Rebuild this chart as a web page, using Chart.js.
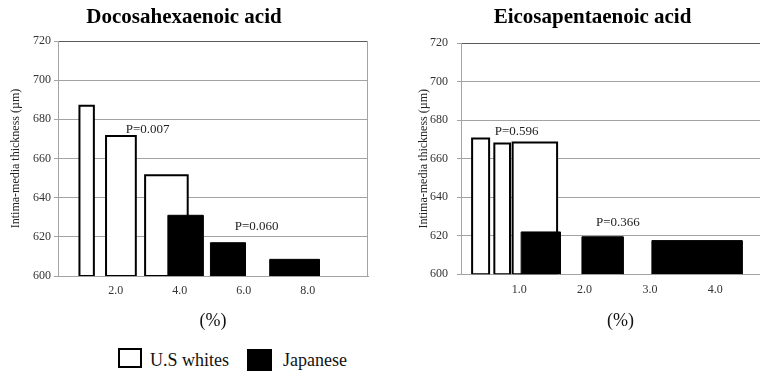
<!DOCTYPE html>
<html>
<head>
<meta charset="utf-8">
<script src="https://cdn.jsdelivr.net/npm/chart.js@4.4.1/dist/chart.umd.min.js"></script>
<style>
  html, body { margin: 0; padding: 0; background: #fff; overflow: hidden; }
  body { position: relative; width: 760px; height: 376px; }
  .panel { position: absolute; top: 0; height: 340px; }
  #dha-wrap { left: 0; width: 372px; }
  #epa-wrap { left: 405px; width: 375px; }
  .legend { font-family: 'Liberation Serif', 'Times New Roman', serif; font-size: 18px; color: #111; }
  .legend span { position: absolute; box-sizing: border-box; line-height: 20px; white-space: nowrap; }
</style>
</head>
<body>
<div class="panel" id="dha-wrap"><canvas id="dha"></canvas></div>
<div class="panel" id="epa-wrap"><canvas id="epa"></canvas></div>

<div class="legend">
  <span style="left:118px;top:348px;width:24px;height:20px;border:2px solid #000;background:#fff"></span>
  <span style="left:150px;top:350px">U.S whites</span>
  <span style="left:247px;top:349px;width:25px;height:22px;background:#000"></span>
  <span style="left:283px;top:350px">Japanese</span>
</div>

<script>
const BASE = 600;

// Docosahexaenoic acid: intake range (%) of each quintile and mean IMT (µm)
const dhaTicks = [2, 4, 6, 8];
const dhaWhiteRanges = [[0.87, 1.32], [1.70, 2.63], [2.92, 4.25]];
const dhaWhiteIMT = [687, 671.5, 651.5];
const dhaJapanRanges = [[3.63, 4.73], [4.96, 6.05], [6.81, 8.36]];
const dhaJapanIMT = [631, 617, 608.5];
const dhaPValues = ['P=0.007', 'P=0.060'];

// Eicosapentaenoic acid
const epaTicks = [1, 2, 3, 4];
const epaWhiteRanges = [[0.28, 0.54], [0.62, 0.86], [0.90, 1.58]];
const epaWhiteIMT = [670.5, 668, 668.5];
const epaJapanRanges = [[1.03, 1.63], [1.96, 2.59], [3.03, 4.41]];
const epaJapanIMT = [622, 619.5, 617.5];
const epaPValues = ['P=0.596', 'P=0.366'];

// where the P labels sit (data units)
const dhaPAt = [[3.0, 675], [6.4, 625]];
const epaPAt = [[0.96, 674], [2.51, 626.8]];

const SERIF = "'Liberation Serif', 'Times New Roman', serif";
const GRID = '#a3a3a3';
const TEXT = '#333';
Chart.defaults.font.family = SERIF;
Chart.defaults.color = TEXT;

// each bar is a rectangle traced as a line; null points split the bars apart
function barPoints(ranges, vals, closed) {
  const pts = [];
  ranges.forEach(([a, b], i) => {
    if (i) pts.push({ x: a, y: null });
    pts.push({ x: a, y: BASE }, { x: a, y: vals[i] }, { x: b, y: vals[i] }, { x: b, y: BASE });
    if (closed) pts.push({ x: a, y: BASE });
  });
  return pts;
}

const framePlugin = {
  id: 'frame',
  beforeDatasetsDraw(chart) {
    const { ctx, chartArea: a } = chart;
    const x = Math.round(a.right) - 0.5;
    ctx.save();
    ctx.strokeStyle = GRID;
    ctx.lineWidth = 1;
    ctx.beginPath();
    ctx.moveTo(x, a.top);
    ctx.lineTo(x, a.bottom);
    ctx.stroke();
    ctx.restore();
  }
};

function pLabelPlugin(texts, at) {
  return {
    id: 'pLabels',
    afterDatasetsDraw(chart) {
      const { ctx, scales } = chart;
      ctx.save();
      ctx.font = '13px ' + SERIF;
      ctx.fillStyle = '#222';
      ctx.textAlign = 'center';
      ctx.textBaseline = 'middle';
      texts.forEach((t, i) => {
        ctx.fillText(t, scales.x.getPixelForValue(at[i][0]), scales.y.getPixelForValue(at[i][1]));
      });
      ctx.restore();
    }
  };
}

function makeChart(id, c) {
  return new Chart(document.getElementById(id), {
    type: 'line',
    data: {
      datasets: [
        { label: 'Japanese', data: barPoints(c.japanRanges, c.japanVals, false),
          fill: { value: BASE }, backgroundColor: '#000', borderColor: '#000', borderWidth: 1 },
        { label: 'U.S whites', data: barPoints(c.whiteRanges, c.whiteVals, true),
          fill: false, borderColor: '#000', borderWidth: 2 },
        { label: 'U.S whites fill', data: barPoints(c.whiteRanges, c.whiteVals, false),
          fill: { value: BASE }, backgroundColor: '#fff', borderColor: 'rgba(0,0,0,0)', borderWidth: 1 }
      ]
    },
    options: {
      responsive: true,
      maintainAspectRatio: false,
      animation: false,
      events: [],
      layout: { padding: { right: c.padRight } },
      elements: {
        point: { radius: 0 },
        line: { tension: 0, borderJoinStyle: 'miter', spanGaps: false }
      },
      plugins: {
        legend: { display: false },
        tooltip: { enabled: false },
        title: {
          display: true,
          text: c.title,
          color: '#000',
          font: { size: 21, weight: 'bold' },
          padding: { top: 5.4, bottom: c.titleGap }
        }
      },
      scales: {
        x: {
          type: 'linear',
          min: c.xMin,
          max: c.xMax,
          grid: { display: false, drawTicks: false },
          border: { color: GRID },
          afterBuildTicks: (s) => { s.ticks = c.ticks.map(v => ({ value: v })); },
          ticks: {
            padding: 8,
            maxRotation: 0,
            autoSkip: false,
            font: { size: 12 },
            callback: (v) => Number(v).toFixed(1)
          },
          title: {
            display: true,
            text: '(%)',
            color: '#111',
            font: { size: 18 },
            padding: { top: c.pctTop, bottom: c.pctBottom }
          }
        },
        y: {
          min: 600,
          max: 720,
          ticks: { stepSize: 20, padding: c.yTickPad, font: { size: 12 } },
          grid: {
            color: (ctx) => ctx.tick && ctx.tick.value === ctx.scale.max ? '#5a5a5a' : GRID,
            tickColor: GRID,
            tickLength: 4
          },
          border: { color: GRID },
          title: {
            display: true,
            text: 'Intima-media thickness (µm)',
            color: '#222',
            font: { size: 12 },
            padding: { top: c.yTitlePad, bottom: 0 }
          },
          afterFit: (s) => { s.width = c.yWidth; }
        }
      }
    },
    plugins: [framePlugin, pLabelPlugin(c.pTexts, c.pAt)]
  });
}

makeChart('dha', {
  title: 'Docosahexaenoic acid',
  ticks: dhaTicks,
  whiteRanges: dhaWhiteRanges, whiteVals: dhaWhiteIMT,
  japanRanges: dhaJapanRanges, japanVals: dhaJapanIMT,
  pTexts: dhaPValues, pAt: dhaPAt,
  xMin: 0.2, xMax: 9.88,
  padRight: 4, titleGap: 10.4,
  pctTop: 4, pctBottom: 8,
  yWidth: 58, yTickPad: 3, yTitlePad: 8.8
});

makeChart('epa', {
  title: 'Eicosapentaenoic acid',
  ticks: epaTicks,
  whiteRanges: epaWhiteRanges, whiteVals: epaWhiteIMT,
  japanRanges: epaJapanRanges, japanVals: epaJapanIMT,
  pTexts: epaPValues, pAt: epaPAt,
  xMin: 0.11, xMax: 4.99,
  padRight: 0, titleGap: 12.7,
  pctTop: 5.5, pctBottom: 8.2,
  yWidth: 56, yTickPad: 9, yTitlePad: 11.8
});
</script>
</body>
</html>
